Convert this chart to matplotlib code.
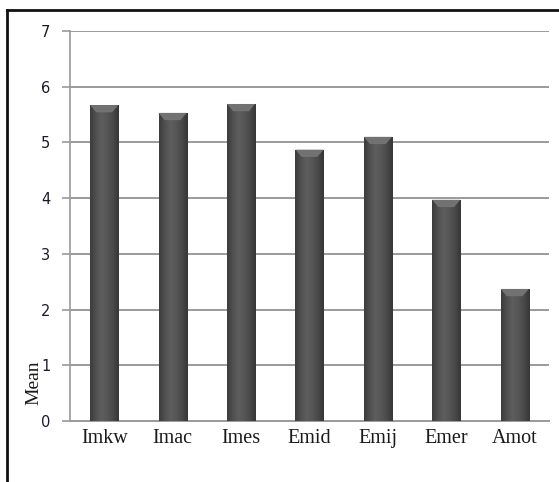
import numpy as np
import matplotlib
matplotlib.use("Agg")
import matplotlib.pyplot as plt
from matplotlib.colors import LinearSegmentedColormap
from matplotlib.patches import Polygon
from matplotlib.lines import Line2D

categories = ["Imkw", "Imac", "Imes", "Emid", "Emij", "Emer", "Amot"]
means = [5.67, 5.53, 5.69, 4.87, 5.10, 3.97, 2.37]
y_ticks = [0, 1, 2, 3, 4, 5, 6, 7]

fig = plt.figure(figsize=(5.59, 4.82), dpi=100)
ax = fig.add_axes([0.1252, 0.1266, 0.8568, 0.8091])

x = np.arange(len(categories))
bars = ax.bar(x, means, width=0.41, color="#4a4a4a", zorder=3, edgecolor="none")

cmap = LinearSegmentedColormap.from_list(
    "barshade", ["#3c3c3c", "#505050", "#5e5e5e", "#565656", "#494949", "#363636"])
grad = np.linspace(0, 1, 64).reshape(1, -1)
for b in bars:
    x0, w, h = b.get_x(), b.get_width(), b.get_height()
    im = ax.imshow(grad, cmap=cmap, aspect="auto", extent=(x0, x0 + w, 0, h),
                   zorder=3.5, interpolation="bilinear")
    im.set_clip_path(b)
    bev = 0.13
    inset = w * 0.22
    ax.add_patch(Polygon([(x0, h), (x0 + w, h), (x0 + w - inset, h - bev),
                          (x0 + inset, h - bev)], closed=True,
                         facecolor="#727272", edgecolor="none", zorder=4))

ax.set_xlim(-0.5, len(categories) - 0.5)
ax.set_ylim(0, 7)
ax.set_yticks(y_ticks)
ax.set_yticklabels([str(t) for t in y_ticks], fontsize=10.5, color="#1a1a2a",
                   family="DejaVu Sans")
ax.set_xticks(x)
ax.set_xticklabels(categories, fontsize=14.5, family="Liberation Serif", color="#1a1a1a")
ax.yaxis.grid(True, color="#9a9a9a", linewidth=1.4, zorder=0)
ax.set_axisbelow(True)
for s in ["top", "right"]:
    ax.spines[s].set_visible(False)
ax.spines["left"].set_color("#9a9a9a")
ax.spines["left"].set_linewidth(1.2)
ax.spines["bottom"].set_color("#9a9a9a")
ax.spines["bottom"].set_linewidth(1.4)
ax.tick_params(axis="y", length=6, color="#9a9a9a", width=1.2, pad=8)
ax.tick_params(axis="x", length=0, pad=6)

ax.set_ylabel("Mean", fontsize=14, family="Liberation Serif", color="#1a1a1a")
ax.yaxis.set_label_coords(-0.058, 0.097)

# outer frame (left and top)
fig.add_artist(Line2D([7 / 559, 7 / 559], [0, 1 - 10 / 482], color="#111111",
                      linewidth=2, transform=fig.transFigure))
fig.add_artist(Line2D([7 / 559, 1], [1 - 10 / 482, 1 - 10 / 482], color="#111111",
                      linewidth=2, transform=fig.transFigure))

fig.savefig("out.png", dpi=100)
